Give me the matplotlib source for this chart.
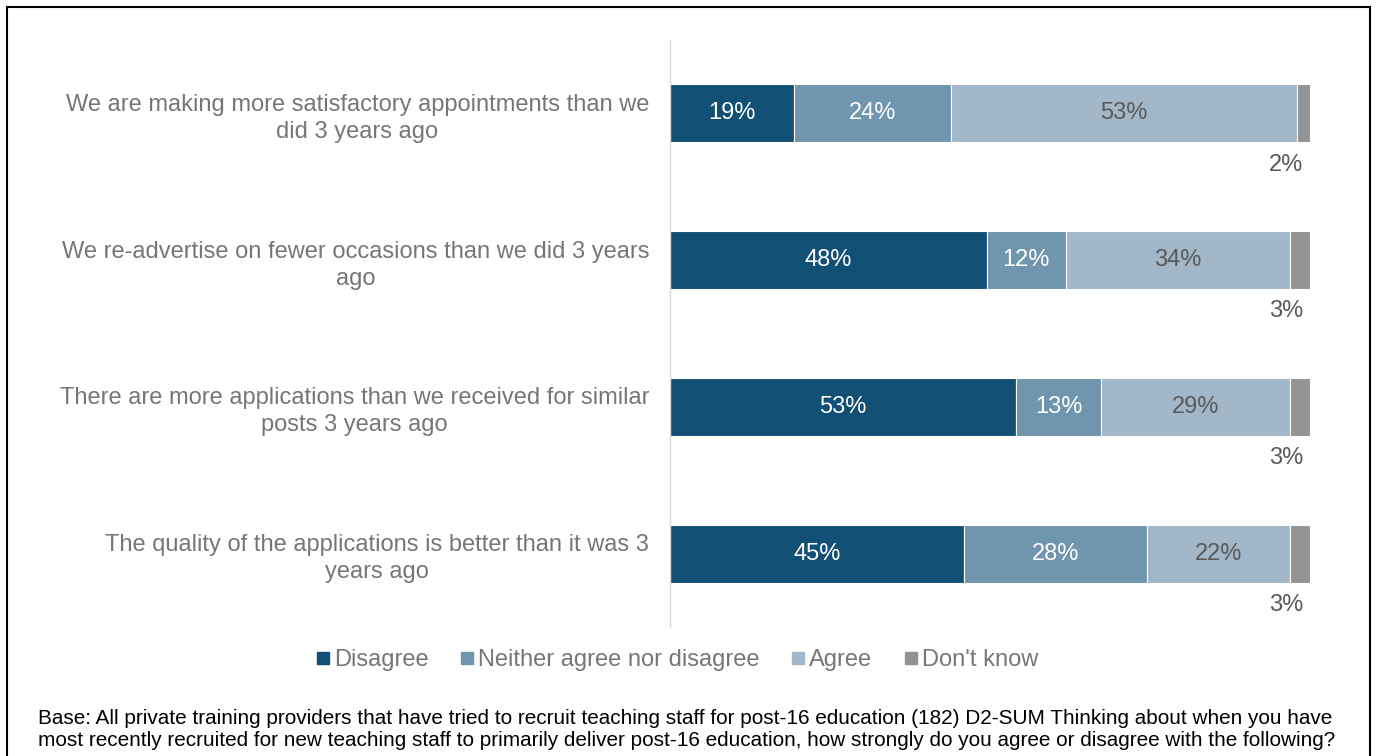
import matplotlib.pyplot as plt
from matplotlib.lines import Line2D
from matplotlib.patches import Rectangle
import numpy as np

plt.rcParams['font.family'] = ['Liberation Sans', 'DejaVu Sans']

statements = [
    "We are making more satisfactory appointments than we\ndid 3 years ago",
    "We re-advertise on fewer occasions than we did 3 years\nago",
    "There are more applications than we received for similar\nposts 3 years ago",
    "The quality of the applications is better than it was 3\nyears ago",
]
series = ["Disagree", "Neither agree nor disagree", "Agree", "Don't know"]
disagree = [19, 48, 53, 45]
neither = [24, 12, 13, 28]
agree = [53, 34, 29, 22]
dont_know = [2, 3, 3, 3]

colors = ["#114f75", "#7095ae", "#a2b8c8", "#939393"]
label_colors = ["white", "white", "#595959", "#595959"]
grey_text = "#767676"

values = np.array([disagree, neither, agree, dont_know], dtype=float)
shares = values / values.sum(axis=0) * 100   # 100% stacked

fig = plt.figure(figsize=(13.76, 7.56), dpi=100)
ax = fig.add_axes([670 / 1376, 1 - 627 / 756, 640 / 1376, 587 / 756])

y = np.arange(len(statements))
left = np.zeros(len(statements))
for i, name in enumerate(series):
    ax.barh(y, shares[i], left=left, height=0.395, color=colors[i],
            edgecolor="white", linewidth=0.8, label=name)
    for j in range(len(statements)):
        if i < 3:
            ax.text(left[j] + shares[i][j] / 2, y[j], f"{int(values[i][j])}%",
                    ha="center", va="center", fontsize=17, color=label_colors[i])
        else:
            ax.text(99, y[j] + 0.35, f"{int(values[i][j])}%",
                    ha="right", va="center", fontsize=17, color="#595959")
    left += shares[i]

ax.set_xlim(0, 100)
ax.set_ylim(3.5, -0.5)
ax.set_yticks(y)
ax.set_yticklabels(statements, fontsize=17, color=grey_text,
                   multialignment="center", linespacing=1.3)
ax.tick_params(axis="y", length=0, pad=15)
ax.set_xticks([])
for side in ["top", "right", "bottom"]:
    ax.spines[side].set_visible(False)
ax.spines["left"].set_color("#d9d9d9")
ax.spines["left"].set_linewidth(1)

handles = [Line2D([], [], marker="s", linestyle="", markersize=9,
                  markerfacecolor=c, markeredgecolor=c) for c in colors]
fig.legend(handles, series, loc="center", bbox_to_anchor=(677 / 1376, 1 - 660 / 756),
           ncol=4, frameon=False, fontsize=17, labelcolor=grey_text,
           handlelength=0.6, handletextpad=0.15, columnspacing=1.35)

fig.text(38 / 1376, 1 - 730 / 756,
         "Base: All private training providers that have tried to recruit teaching staff for post-16 education (182) "
         "D2-SUM Thinking about when you have\nmost recently recruited for new teaching staff to primarily deliver "
         "post-16 education, how strongly do you agree or disagree with the following?",
         ha="left", va="center", fontsize=14.95, color="black", linespacing=1.2)

fig.add_artist(Rectangle((7 / 1376, -0.01), 1363 / 1376, 1 - 7 / 756 + 0.01,
                         transform=fig.transFigure, fill=False,
                         edgecolor="black", linewidth=1.5))

fig.savefig("out.png", dpi=100)
